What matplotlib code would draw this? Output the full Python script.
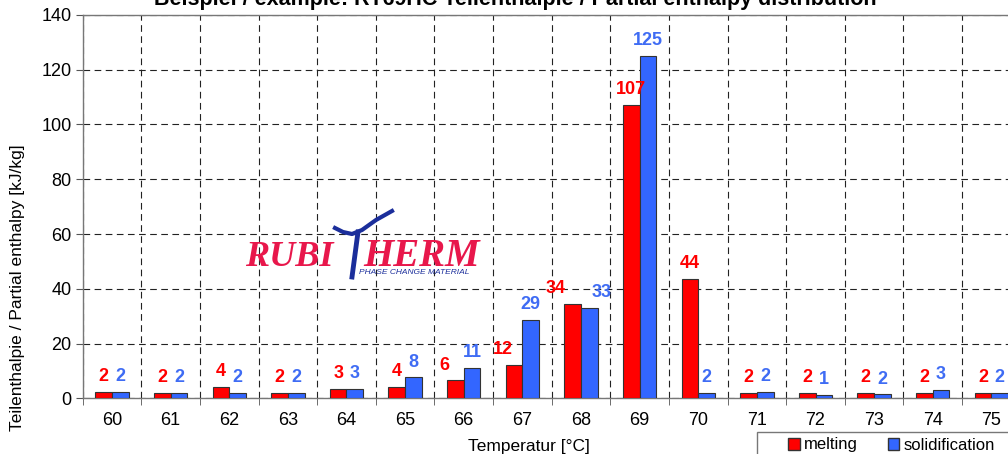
import numpy as np
import matplotlib
matplotlib.use("Agg")
import matplotlib.pyplot as plt
from matplotlib.lines import Line2D
from matplotlib.patches import Patch, Rectangle

temperatures = [60, 61, 62, 63, 64, 65, 66, 67, 68, 69, 70, 71, 72, 73, 74, 75]
melting = [2.3, 1.8, 4.0, 2.0, 3.3, 4.2, 6.5, 12.1, 34.3, 107.2, 43.6, 2.0, 2.0, 2.0, 2.0, 2.0]
solidification = [2.2, 2.0, 2.1, 2.0, 3.3, 7.6, 11.2, 28.6, 33.0, 125.2, 2.1, 2.3, 1.1, 1.4, 3.2, 2.0]
melting_labels = ["2", "2", "4", "2", "3", "4", "6", "12", "34", "107", "44", "2", "2", "2", "2", "2"]
solid_labels = ["2", "2", "2", "2", "3", "8", "11", "29", "33", "125", "2", "2", "1", "2", "3", "2"]

RED = "#ff0000"
BLUE = "#3366ff"
BLUE_TXT = "#3f6cf4"


def main():
    plt.rcParams["font.family"] = ["Liberation Sans", "DejaVu Sans"]
    fig = plt.figure(figsize=(10.08, 4.54), dpi=100)
    ax = fig.add_axes([0.0820, 0.1227, 0.9306, 0.8443])

    x = np.arange(len(temperatures))
    w = 0.285
    ax.bar(x - w / 2, melting, w, color=RED, edgecolor="#333333", linewidth=0.8, zorder=3)
    ax.bar(x + w / 2, solidification, w, color=BLUE, edgecolor="#333333", linewidth=0.8, zorder=3)

    # labels pushed sideways where they would crowd each other (in points)
    nudge_m = {6: -8, 7: -8, 8: -12}
    nudge_s = {8: 9}
    for i in range(len(x)):
        ax.annotate(melting_labels[i], (x[i] - w / 2, melting[i]), xytext=(nudge_m.get(i, 0), 5),
                    textcoords="offset points", ha="center", va="bottom",
                    color=RED, fontsize=13, fontweight="bold", zorder=4)
        ax.annotate(solid_labels[i], (x[i] + w / 2, solidification[i]), xytext=(nudge_s.get(i, 0), 5),
                    textcoords="offset points", ha="center", va="bottom",
                    color=BLUE_TXT, fontsize=13, fontweight="bold", zorder=4)

    ax.set_xlim(-0.5, len(x) - 0.5)
    ax.set_ylim(0, 140)
    ax.set_yticks(range(0, 141, 20))
    ax.set_xticks(x)
    ax.set_xticklabels([str(t) for t in temperatures])
    ax.set_xticks(np.arange(-0.5, len(x), 1), minor=True)
    ax.tick_params(axis="x", which="major", length=0, labelsize=13, pad=10)
    ax.tick_params(axis="x", which="minor", length=5, direction="out", color="#555555")
    ax.tick_params(axis="y", length=5, direction="out", labelsize=13, color="#555555", pad=3)

    ax.grid(axis="y", which="major", linestyle=(0, (6, 4)), color="#222222", linewidth=0.8, zorder=0)
    ax.grid(axis="x", which="minor", linestyle=(0, (6, 4)), color="#222222", linewidth=0.8, zorder=0)
    for s in ax.spines.values():
        s.set_color("#777777")
        s.set_linewidth(1.0)

    fig.text(0.511, 1 - 5 / 454, "Beispiel / example: RT69HC Teilenthalpie / Partial enthalpy distribution",
             ha="center", va="baseline", fontsize=15.5, fontweight="bold")
    fig.text(529 / 1008, 1 - 446 / 454, "Temperatur [°C]", ha="center", va="center", fontsize=12.5)
    fig.text(18 / 1008, 1 - 288 / 454, "Teilenthalpie / Partial enthalpy [kJ/kg]",
             ha="center", va="center", rotation=90, fontsize=12.5)

    # logo
    logo_red = "#e8174b"
    logo_blue = "#1b2e9b"
    fig.text(245 / 1008, 1 - 266 / 454, "RUBI", ha="left", va="baseline", color=logo_red,
             fontsize=26, fontweight="bold", fontstyle="italic", family="Liberation Serif")
    fig.text(363 / 1008, 1 - 266 / 454, "HERM", ha="left", va="baseline", color=logo_red,
             fontsize=28, fontweight="bold", fontstyle="italic", family="Liberation Serif")
    fig.text(359 / 1008, 1 - 272 / 454, "PHASE CHANGE MATERIAL", ha="left", va="center",
             color=logo_blue, fontsize=6, fontstyle="italic")
    fig.add_artist(Line2D([352 / 1008, 358 / 1008], [1 - 277 / 454, 1 - 232 / 454],
                          transform=fig.transFigure, color=logo_blue, linewidth=3.5))
    sx = np.array([335, 343, 352, 362, 376, 392]) / 1008
    sy = 1 - np.array([228, 232, 234, 230, 220, 211]) / 454
    fig.add_artist(Line2D(sx, sy, transform=fig.transFigure, color=logo_blue, linewidth=3))

    # legend
    fig.add_artist(Rectangle((757 / 1008, -0.05), 0.3, 0.05 + 1 - 432 / 454,
                             transform=fig.transFigure, facecolor="white",
                             edgecolor="#777777", linewidth=1.0))
    handles = [Patch(facecolor=RED, edgecolor="#333333", label="melting"),
               Patch(facecolor=BLUE, edgecolor="#333333", label="solidification")]
    fig.legend(handles=handles, loc="center left", bbox_to_anchor=(788 / 1008, 1 - 445 / 454),
               ncol=2, fontsize=12, frameon=False, handlelength=0.7,
               handleheight=0.7, handletextpad=0.25, columnspacing=1.8, borderpad=0,
               borderaxespad=0)

    fig.savefig("out.png", dpi=100)


if __name__ == "__main__":
    main()
